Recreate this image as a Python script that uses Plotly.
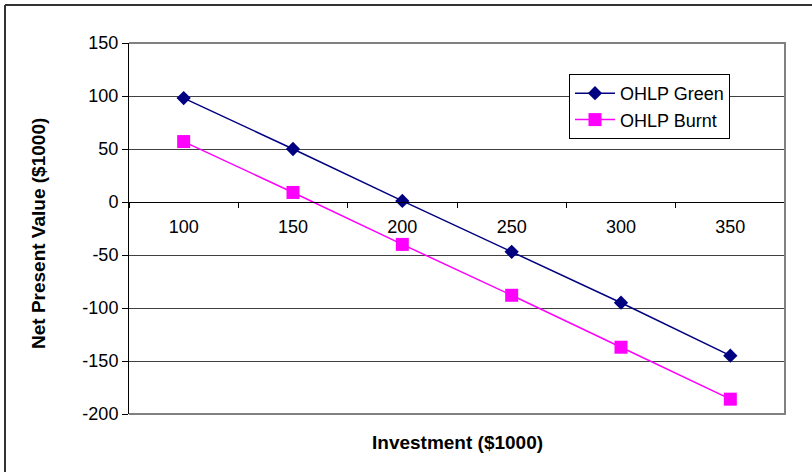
import plotly.graph_objects as go

# Investment levels (thousands of dollars) and resulting net present values
investment = ["100", "150", "200", "250", "300", "350"]
npv_green = [98, 50, 1, -47, -95, -145]
npv_burnt = [57, 9, -40, -88, -137, -186]

y_min, y_max = -200, 150
y_ticks = [150, 100, 50, 0, -50, -100, -150, -200]
y_tick_text = [str(v) for v in y_ticks]

W, H = 812, 472
ml, mr, mt, mb = 129, 27, 43, 58
pw, ph = W - ml - mr, H - mt - mb

font = "Liberation Sans, Arial, sans-serif"

fig = go.Figure()
fig.add_trace(go.Scatter(
    x=investment, y=npv_green, name="OHLP Green", mode="lines+markers",
    line=dict(color="#000080", width=1.5),
    marker=dict(symbol="diamond", size=11, color="#000080"),
))
fig.add_trace(go.Scatter(
    x=investment, y=npv_burnt, name="OHLP Burnt", mode="lines+markers",
    line=dict(color="#FF00FF", width=1.5),
    marker=dict(symbol="square", size=13, color="#FF00FF"),
))

# category axis crosses the value axis at zero
zero_pos = (0 - y_min) / (y_max - y_min)

# chart-area border corner, in paper units
bx0 = -(ml - 5) / pw
by1 = (H - mb - 5) / ph

fig.update_layout(
    width=W, height=H,
    margin=dict(l=ml, r=mr, t=mt, b=mb),
    paper_bgcolor="white", plot_bgcolor="white",
    font=dict(family=font, size=18, color="black"),
    showlegend=True,
    legend=dict(
        x=(569 - ml) / pw, y=(H - mb - 74) / ph, xanchor="left", yanchor="top",
        bgcolor="white", bordercolor="black", borderwidth=1,
        font=dict(size=18), tracegroupgap=0, itemwidth=40,
    ),
    xaxis=dict(
        type="category", range=[-0.5, len(investment) - 0.5],
        anchor="free", position=zero_pos,
        showline=True, linecolor="black", linewidth=1,
        ticks="outside", ticklen=5, tickcolor="black", tickson="boundaries",
        showgrid=False, zeroline=False, ticklabelstandoff=8,
        tickfont=dict(size=18),
    ),
    yaxis=dict(
        range=[y_min, y_max], tickvals=y_ticks, ticktext=y_tick_text,
        showline=True, linecolor="black", linewidth=1,
        ticks="outside", ticklen=6, tickcolor="black",
        showgrid=True, gridcolor="#404040", gridwidth=1, zeroline=False,
        tickfont=dict(size=18),
    ),
    annotations=[
        dict(text="<b>Investment ($1000)</b>", xref="paper", yref="paper",
             x=0.5, y=-(442 - (H - mb)) / ph,
             xanchor="center", yanchor="middle", showarrow=False,
             font=dict(size=19)),
        dict(text="<b>Net Present Value ($1000)</b>", xref="paper", yref="paper",
             x=-(ml - 38) / pw, y=(H - mb - 233) / ph, textangle=-90,
             xanchor="center", yanchor="middle", showarrow=False,
             font=dict(size=19)),
    ],
    shapes=[
        # plot-area frame on top, right and bottom
        dict(type="path", xref="paper", yref="paper",
             path="M 0 1 L 1 1 L 1 0 L 0 0",
             line=dict(color="#808080", width=2), layer="above"),
        # chart-area border: left and top edges
        dict(type="line", xref="paper", yref="paper",
             x0=bx0, x1=bx0, y0=by1, y1=-(mb + 40) / ph,
             line=dict(color="#333333", width=2), layer="above"),
        dict(type="line", xref="paper", yref="paper",
             x0=bx0, x1=(W - ml + 40) / pw, y0=by1, y1=by1,
             line=dict(color="#333333", width=2), layer="above"),
    ],
)

fig.write_html("out.html")
